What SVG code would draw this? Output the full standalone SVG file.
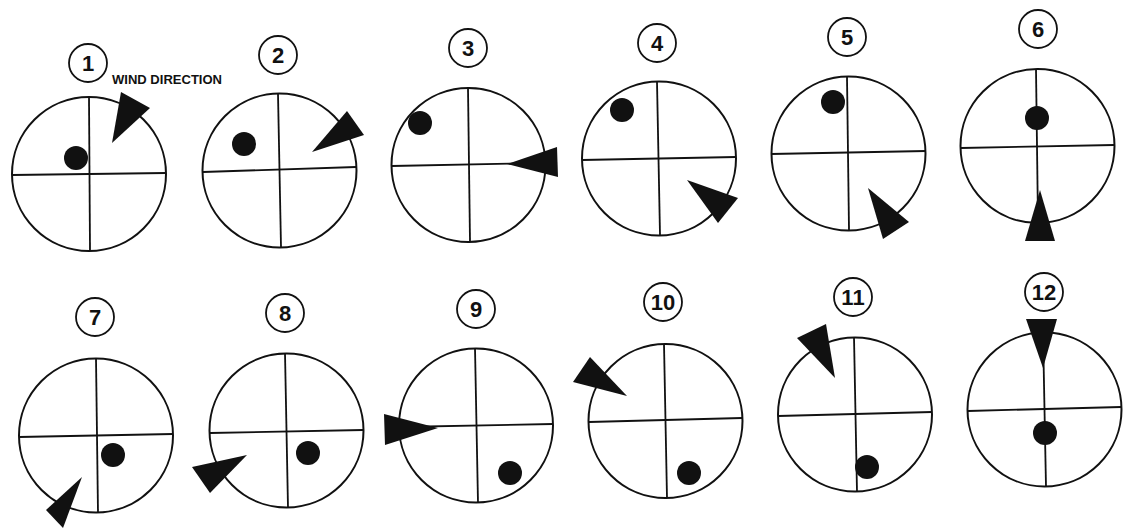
<svg xmlns="http://www.w3.org/2000/svg" width="1131" height="531" viewBox="0 0 1131 531">
<style>
.ring{fill:none;stroke:#111;stroke-width:2}
.hair{stroke:#111;stroke-width:1.8}
.dot{fill:#111}
.wedge{fill:#111}
.badge{fill:#fff;stroke:#111;stroke-width:1.8}
.num{font-family:"Liberation Sans",Arial,sans-serif;font-weight:bold;font-size:22px;fill:#111;text-anchor:middle}
.lbl{font-family:"Liberation Sans",Arial,sans-serif;font-weight:bold;font-size:12px;fill:#111}
</style>
<rect width="1131" height="531" fill="#fff"/>
<g id="d1">
<circle class="badge" cx="88" cy="63" r="19"/><text class="num" x="88" y="71">1</text>
<circle class="ring" cx="89" cy="174" r="77"/>
<line class="hair" x1="12" y1="175" x2="166" y2="173"/><line class="hair" x1="89" y1="97" x2="90" y2="251"/>
<circle class="dot" cx="76" cy="158" r="12"/>
<polygon class="wedge" points="112,143 121,92 150,108"/>
<text class="lbl" x="112" y="84" textLength="110" lengthAdjust="spacingAndGlyphs">WIND DIRECTION</text>
</g>
<g id="d2">
<circle class="badge" cx="278" cy="55" r="19"/><text class="num" x="278" y="63">2</text>
<circle class="ring" cx="279.5" cy="170.5" r="77"/>
<line class="hair" x1="203" y1="172" x2="356" y2="167"/><line class="hair" x1="278" y1="94" x2="281" y2="247"/>
<circle class="dot" cx="244" cy="144" r="12"/>
<polygon class="wedge" points="312,152 347,111 364,135"/>
</g>
<g id="d3">
<circle class="badge" cx="468" cy="48" r="19"/><text class="num" x="468" y="56">3</text>
<circle class="ring" cx="468.5" cy="165" r="77"/>
<line class="hair" x1="392" y1="166" x2="545" y2="163"/><line class="hair" x1="468" y1="88" x2="470" y2="242"/>
<circle class="dot" cx="420" cy="123" r="12"/>
<polygon class="wedge" points="507,164 557,147 558,177"/>
</g>
<g id="d4">
<circle class="badge" cx="657" cy="43" r="19"/><text class="num" x="657" y="51">4</text>
<circle class="ring" cx="659" cy="158.5" r="77"/>
<line class="hair" x1="582" y1="160" x2="736" y2="157"/><line class="hair" x1="657" y1="82" x2="660" y2="235"/>
<circle class="dot" cx="622" cy="110" r="12"/>
<polygon class="wedge" points="687,180 738,198 718,223"/>
</g>
<g id="d5">
<circle class="badge" cx="847" cy="37" r="19"/><text class="num" x="847" y="45">5</text>
<circle class="ring" cx="848.5" cy="153.5" r="77"/>
<line class="hair" x1="771" y1="154" x2="926" y2="151"/><line class="hair" x1="847" y1="77" x2="849" y2="230"/>
<circle class="dot" cx="833" cy="102" r="12"/>
<polygon class="wedge" points="868,188 909,222 883,239"/>
</g>
<g id="d6">
<circle class="badge" cx="1038" cy="29" r="19"/><text class="num" x="1038" y="37">6</text>
<circle class="ring" cx="1037.5" cy="146" r="77"/>
<line class="hair" x1="961" y1="148" x2="1114" y2="145"/><line class="hair" x1="1036" y1="69" x2="1038" y2="223"/>
<circle class="dot" cx="1037" cy="118" r="12"/>
<polygon class="wedge" points="1040,190 1025,241 1055,241"/>
</g>
<g id="d7">
<circle class="badge" cx="95" cy="317" r="19"/><text class="num" x="95" y="325">7</text>
<circle class="ring" cx="96" cy="435.5" r="77"/>
<line class="hair" x1="19" y1="437" x2="173" y2="434"/><line class="hair" x1="96" y1="358" x2="98" y2="513"/>
<circle class="dot" cx="113" cy="455" r="12"/>
<polygon class="wedge" points="82,477 46,510 63,528"/>
</g>
<g id="d8">
<circle class="badge" cx="285" cy="313" r="19"/><text class="num" x="285" y="321">8</text>
<circle class="ring" cx="286.5" cy="430.5" r="77"/>
<line class="hair" x1="210" y1="433" x2="363" y2="430"/><line class="hair" x1="285" y1="353" x2="288" y2="508"/>
<circle class="dot" cx="308" cy="453" r="12"/>
<polygon class="wedge" points="247,455 192,467 210,493"/>
</g>
<g id="d9">
<circle class="badge" cx="476" cy="309" r="19"/><text class="num" x="476" y="317">9</text>
<circle class="ring" cx="476" cy="425.5" r="77"/>
<line class="hair" x1="399" y1="427" x2="553" y2="424"/><line class="hair" x1="475" y1="348" x2="478" y2="503"/>
<circle class="dot" cx="510" cy="473" r="12"/>
<polygon class="wedge" points="438,428 384,414 385,445"/>
</g>
<g id="d10">
<circle class="badge" cx="663" cy="302" r="19"/><text class="num" x="663" y="310">10</text>
<circle class="ring" cx="665.5" cy="421" r="77"/>
<line class="hair" x1="589" y1="422" x2="742" y2="418"/><line class="hair" x1="664" y1="344" x2="667" y2="498"/>
<circle class="dot" cx="689" cy="473" r="12"/>
<polygon class="wedge" points="627,396 590,357 573,382"/>
</g>
<g id="d11">
<circle class="badge" cx="853" cy="297" r="19"/><text class="num" x="853" y="305">11</text>
<circle class="ring" cx="855" cy="414.5" r="77"/>
<line class="hair" x1="778" y1="416" x2="932" y2="412"/><line class="hair" x1="854" y1="337" x2="857" y2="492"/>
<circle class="dot" cx="867" cy="467" r="12"/>
<polygon class="wedge" points="835,378 797,338 826,324"/>
</g>
<g id="d12">
<circle class="badge" cx="1044" cy="292" r="19"/><text class="num" x="1044" y="300">12</text>
<circle class="ring" cx="1044.5" cy="409.5" r="77"/>
<line class="hair" x1="968" y1="411" x2="1121" y2="407"/><line class="hair" x1="1043" y1="332" x2="1046" y2="487"/>
<circle class="dot" cx="1045" cy="433" r="12"/>
<polygon class="wedge" points="1043,368 1026,319 1057,319"/>
</g>
</svg>
